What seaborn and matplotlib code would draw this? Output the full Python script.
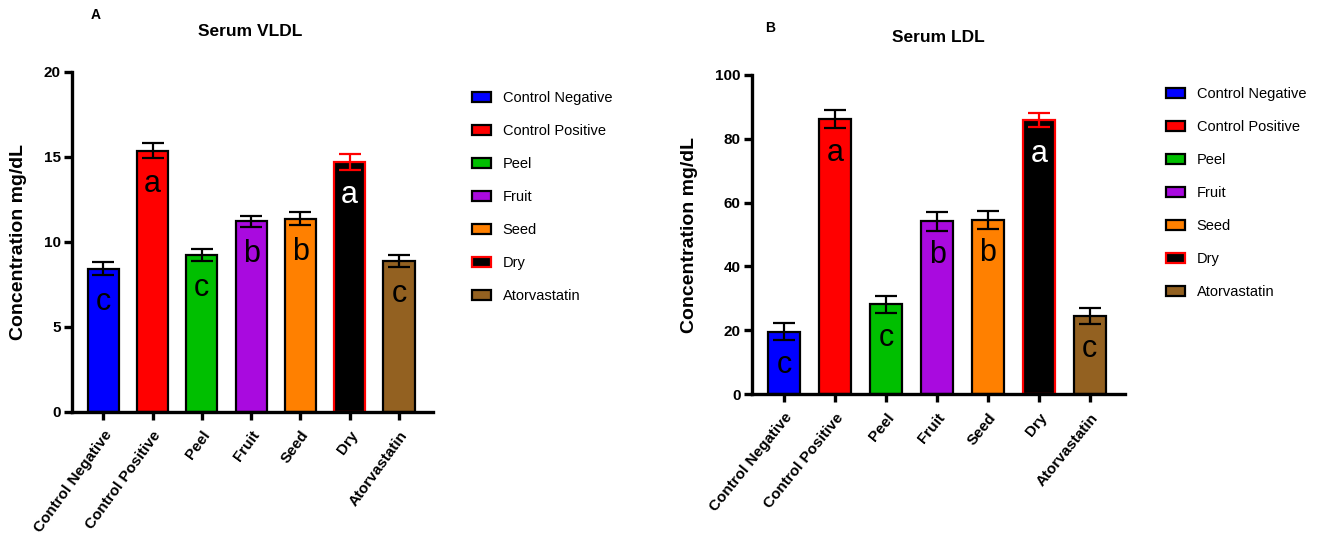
import numpy as np
import pandas as pd
import matplotlib
matplotlib.use("Agg")
import matplotlib.pyplot as plt
from matplotlib.patches import Patch
import seaborn as sns

# data
groups = ["Control Negative", "Control Positive", "Peel", "Fruit", "Seed", "Dry", "Atorvastatin"]
vldl_mean = [8.41, 15.35, 9.24, 11.21, 11.35, 14.68, 8.87]
vldl_err = [0.38, 0.43, 0.35, 0.32, 0.37, 0.45, 0.37]
ldl_mean = [19.5, 86.1, 28.1, 54.1, 54.5, 85.8, 24.6]
ldl_err = [2.7, 2.8, 2.6, 3.0, 2.8, 2.2, 2.5]
letters = ["c", "a", "c", "b", "b", "a", "c"]

fills = ["#0000FF", "#FF0000", "#00BF00", "#A90ADF", "#FF8000", "#000000", "#936121"]
edges = ["black", "black", "black", "black", "black", "#FF0000", "black"]
letter_colors = ["black"] * 5 + ["white", "black"]

sns.set_style("white")
plt.rcParams["font.family"] = ["Liberation Sans", "DejaVu Sans"]
plt.rcParams["text.color"] = "black"
plt.rcParams["xtick.color"] = "black"
plt.rcParams["ytick.color"] = "black"

fig = plt.figure(figsize=(13.17, 5.42), dpi=100)


def panel(rect, means, errs, ymax, ystep, title, tag, tag_xy, title_xy, ylab_x, leg_xy, rot):
    ax = fig.add_axes(rect)
    df = pd.DataFrame({"group": groups, "value": means})
    sns.barplot(data=df, x="group", y="value", hue="group", palette=fills, saturation=1,
                width=0.63, errorbar=None, legend=False, ax=ax)
    for p, ec in zip(ax.patches, edges):
        p.set_edgecolor(ec)
        p.set_linewidth(1.6)
    for i, (m, e) in enumerate(zip(means, errs)):
        ax.errorbar(i, m, yerr=e, fmt="none", ecolor=edges[i], elinewidth=1.6,
                    capsize=8, capthick=1.6, zorder=1)
        ax.annotate(letters[i], (i, m), xytext=(0, -24), textcoords="offset points",
                    ha="center", va="center", fontsize=22, color=letter_colors[i])
    ax.set_xlim(-0.64, 6.69)
    ax.set_ylim(0, ymax)
    ax.set_yticks(np.arange(0, ymax + 1, ystep))
    sns.despine(ax=ax)
    for s in ("left", "bottom"):
        ax.spines[s].set_linewidth(2.4)
        ax.spines[s].set_color("black")
    ax.tick_params(axis="both", direction="out", length=6, width=2.4, color="black",
                   left=True, bottom=True)
    ax.tick_params(axis="y", labelsize=11, pad=2)
    ax.tick_params(axis="x", pad=6)
    for t in ax.get_yticklabels():
        t.set_fontweight("bold")
    ax.set_xticks(range(len(groups)))
    ax.set_xticklabels(groups, rotation=rot, ha="right", rotation_mode="anchor",
                       fontsize=11, fontweight="bold")
    ax.set_xlabel("")
    ax.set_ylabel("")
    fig.text(ylab_x, rect[1] + rect[3] / 2, "Concentration mg/dL", rotation=90,
             ha="center", va="center", fontsize=14, fontweight="bold")
    fig.text(title_xy[0], title_xy[1], title, ha="center", va="center",
             fontsize=12.5, fontweight="bold")
    fig.text(tag_xy[0], tag_xy[1], tag, ha="center", va="center",
             fontsize=10, fontweight="bold")
    handles = [Patch(facecolor=f, edgecolor=e, linewidth=1.6) for f, e in zip(fills, edges)]
    fig.legend(handles, groups, loc="upper left", bbox_to_anchor=leg_xy, frameon=False,
               fontsize=10.5, handlelength=1.3, handleheight=0.7, handletextpad=0.8,
               labelspacing=1.3, borderpad=0, borderaxespad=0)
    return ax


W, H = 1317, 542
panel([71.7 / W, 1 - 411.7 / H, 361.3 / W, 340 / H], vldl_mean, vldl_err, 20, 5,
      "Serum VLDL", "A", (96 / W, 1 - 15 / H), (250 / W, 1 - 31 / H), 19 / W,
      (472 / W, 1 - 91 / H), 54)
panel([751.7 / W, 1 - 394 / H, 373.3 / W, 319 / H], ldl_mean, ldl_err, 100, 20,
      "Serum LDL", "B", (770 / W, 1 - 28 / H), (938 / W, 1 - 38 / H), 690 / W,
      (1166 / W, 1 - 87 / H), 51)

fig.savefig("out.png", dpi=100)
